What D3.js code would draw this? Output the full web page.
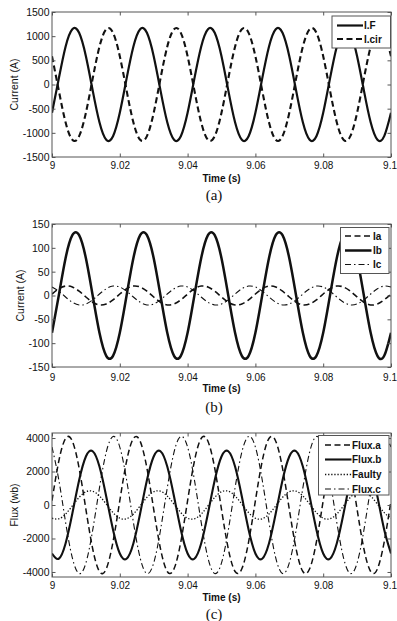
<!DOCTYPE html>
<html>
<head>
<meta charset="utf-8">
<script src="https://cdn.jsdelivr.net/npm/d3@7"></script>
<style>
  body { margin: 0; background: #fff; }
  svg { display: block; }
  text { font-family: Arial, "Liberation Sans", sans-serif; fill: #111; }
</style>
</head>
<body>
<svg id="chart" width="397" height="621"></svg>
<script>
// sample times (s), every 2 ms
var tSamples = [9.000, 9.002, 9.004, 9.006, 9.008, 9.010, 9.012, 9.014, 9.016, 9.018,
  9.020, 9.022, 9.024, 9.026, 9.028, 9.030, 9.032, 9.034, 9.036, 9.038,
  9.040, 9.042, 9.044, 9.046, 9.048, 9.050, 9.052, 9.054, 9.056, 9.058,
  9.060, 9.062, 9.064, 9.066, 9.068, 9.070, 9.072, 9.074, 9.076, 9.078,
  9.080, 9.082, 9.084, 9.086, 9.088, 9.090, 9.092, 9.094, 9.096, 9.098, 9.100];

// (a) currents (A)
var iF = [-585, 122, 783, 1144, 1069, 585, -122, -783, -1144, -1069,
  -585, 122, 783, 1144, 1069, 585, -122, -783, -1144, -1069,
  -585, 122, 783, 1144, 1069, 585, -122, -783, -1144, -1069,
  -585, 122, 783, 1144, 1069, 585, -122, -783, -1144, -1069,
  -585, 122, 783, 1144, 1069, 585, -122, -783, -1144, -1069, -585];
var iCir = [585, -122, -783, -1144, -1069, -585, 122, 783, 1144, 1069,
  585, -122, -783, -1144, -1069, -585, 122, 783, 1144, 1069,
  585, -122, -783, -1144, -1069, -585, 122, 783, 1144, 1069,
  585, -122, -783, -1144, -1069, -585, 122, 783, 1144, 1069,
  585, -122, -783, -1144, -1069, -585, 122, 783, 1144, 1069, 585];

// (b) phase currents (A)
var iA = [3.1, 14.1, 19.8, 17.8, 9.1, -3.1, -14.1, -19.8, -17.8, -9.1,
  3.1, 14.1, 19.8, 17.8, 9.1, -3.1, -14.1, -19.8, -17.8, -9.1,
  3.1, 14.1, 19.8, 17.8, 9.1, -3.1, -14.1, -19.8, -17.8, -9.1,
  3.1, 14.1, 19.8, 17.8, 9.1, -3.1, -14.1, -19.8, -17.8, -9.1,
  3.1, 14.1, 19.8, 17.8, 9.1, -3.1, -14.1, -19.8, -17.8, -9.1, 3.1];
var iB = [-78.2, 0, 78.2, 126.5, 126.5, 78.2, 0, -78.2, -126.5, -126.5,
  -78.2, 0, 78.2, 126.5, 126.5, 78.2, 0, -78.2, -126.5, -126.5,
  -78.2, 0, 78.2, 126.5, 126.5, 78.2, 0, -78.2, -126.5, -126.5,
  -78.2, 0, 78.2, 126.5, 126.5, 78.2, 0, -78.2, -126.5, -126.5,
  -78.2, 0, 78.2, 126.5, 126.5, 78.2, 0, -78.2, -126.5, -126.5, -78.2];
var iC = [17.8, 9.1, -3.1, -14.1, -19.8, -17.8, -9.1, 3.1, 14.1, 19.8,
  17.8, 9.1, -3.1, -14.1, -19.8, -17.8, -9.1, 3.1, 14.1, 19.8,
  17.8, 9.1, -3.1, -14.1, -19.8, -17.8, -9.1, 3.1, 14.1, 19.8,
  17.8, 9.1, -3.1, -14.1, -19.8, -17.8, -9.1, 3.1, 14.1, 19.8,
  17.8, 9.1, -3.1, -14.1, -19.8, -17.8, -9.1, 3.1, 14.1, 19.8, 17.8];

// (c) flux (wb)
var fluxA = [257, 2613, 3971, 3812, 2197, -257, -2613, -3971, -3812, -2197,
  257, 2613, 3971, 3812, 2197, -257, -2613, -3971, -3812, -2197,
  257, 2613, 3971, 3812, 2197, -257, -2613, -3971, -3812, -2197,
  257, 2613, 3971, 3812, 2197, -257, -2613, -3971, -3812, -2197,
  257, 2613, 3971, 3812, 2197, -257, -2613, -3971, -3812, -2197, 257];
var fluxB = [-2896, -3210, -2298, -508, 1475, 2896, 3210, 2298, 508, -1475,
  -2896, -3210, -2298, -508, 1475, 2896, 3210, 2298, 508, -1475,
  -2896, -3210, -2298, -508, 1475, 2896, 3210, 2298, 508, -1475,
  -2896, -3210, -2298, -508, 1475, 2896, 3210, 2298, 508, -1475,
  -2896, -3210, -2298, -508, 1475, 2896, 3210, 2298, 508, -1475, -2896];
var faulty = [-790, -823, -542, -53, 455, 790, 823, 542, 53, -455,
  -790, -823, -542, -53, 455, 790, 823, 542, 53, -455,
  -790, -823, -542, -53, 455, 790, 823, 542, 53, -455,
  -790, -823, -542, -53, 455, 790, 823, 542, 53, -455,
  -790, -823, -542, -53, 455, 790, 823, 542, 53, -455, -790];
var fluxC = [3462, 1509, -1020, -3159, -4092, -3462, -1509, 1020, 3159, 4092,
  3462, 1509, -1020, -3159, -4092, -3462, -1509, 1020, 3159, 4092,
  3462, 1509, -1020, -3159, -4092, -3462, -1509, 1020, 3159, 4092,
  3462, 1509, -1020, -3159, -4092, -3462, -1509, 1020, 3159, 4092,
  3462, 1509, -1020, -3159, -4092, -3462, -1509, 1020, 3159, 4092, 3462];

// ticks
var xTicks = [9, 9.02, 9.04, 9.06, 9.08, 9.1];
var xTickLabels = ["9", "9.02", "9.04", "9.06", "9.08", "9.1"];
var yTicksA = [-1500, -1000, -500, 0, 500, 1000, 1500];
var yTicksB = [-150, -100, -50, 0, 50, 100, 150];
var yTicksC = [-4000, -2000, 0, 2000, 4000];

var svg = d3.select("#chart");
var left = 52, right = 391;

var styles = {
  solid:   { dash: null,          w: 2.2 },
  dashed:  { dash: "6,3.5",       w: 1.9 },
  dotted:  { dash: "1.3,1.8",     w: 1.3 },
  dashdot: { dash: "6,3,1.5,3",   w: 1.1 }
};

function drawPanel(p, idx) {
  var x = d3.scaleLinear().domain([9, 9.1]).range([left, right]);
  var y = d3.scaleLinear().domain(p.yDomain).range([p.bottom, p.top]);
  var g = svg.append("g");

  g.append("clipPath").attr("id", "clip" + idx)
    .append("rect").attr("x", left).attr("y", p.top)
    .attr("width", right - left).attr("height", p.bottom - p.top);

  var line = d3.line()
    .x(function (d, i) { return x(tSamples[i]); })
    .y(function (d) { return y(d); })
    .curve(d3.curveNatural);

  var plot = g.append("g").attr("clip-path", "url(#clip" + idx + ")");
  p.series.forEach(function (s) {
    var st = styles[s.style];
    plot.append("path").datum(s.values)
      .attr("d", line)
      .attr("fill", "none")
      .attr("stroke", "#111")
      .attr("stroke-width", s.w || st.w)
      .attr("stroke-dasharray", st.dash);
  });

  // axes with inward ticks on all sides
  var tk = 3.5;
  g.append("g").attr("transform", "translate(0," + p.bottom + ")")
    .call(d3.axisBottom(x).tickValues(xTicks).tickSizeInner(-tk).tickSizeOuter(0)
      .tickFormat(function (d, i) { return xTickLabels[i]; }))
    .call(function (a) {
      a.selectAll("text").attr("dy", null).attr("y", p.xLabelY - p.bottom)
        .attr("dominant-baseline", "central").style("font-size", "10px");
      // last label sits against the right edge of the figure
      a.selectAll("text").filter(function (d) { return d === 9.1; })
        .attr("text-anchor", "end").attr("x", 5.5);
    });
  g.append("g").attr("transform", "translate(0," + p.top + ")")
    .call(d3.axisTop(x).tickValues(xTicks).tickSizeInner(-tk).tickSizeOuter(0).tickFormat(""));
  g.append("g").attr("transform", "translate(" + left + ",0)")
    .call(d3.axisLeft(y).tickValues(p.yTicks).tickSizeInner(-tk).tickSizeOuter(0)
      .tickFormat(function (d) { return String(d); }))
    .call(function (a) {
      a.selectAll("text").attr("x", -2.5).style("font-size", "10.5px");
    });
  g.append("g").attr("transform", "translate(" + right + ",0)")
    .call(d3.axisRight(y).tickValues(p.yTicks).tickSizeInner(-tk).tickSizeOuter(0).tickFormat(""));

  g.selectAll(".domain").remove();
  g.selectAll(".tick line").attr("stroke", "#555");
  g.selectAll(".tick text").attr("fill", "#111");
  g.append("rect").attr("x", left).attr("y", p.top)
    .attr("width", right - left).attr("height", p.bottom - p.top)
    .attr("fill", "none").attr("stroke", "#555").attr("stroke-width", 1);

  // labels
  g.append("text").attr("x", (left + right) / 2).attr("y", p.timeY)
    .attr("text-anchor", "middle").attr("dominant-baseline", "central")
    .style("font-size", "10px").style("font-weight", "bold").text("Time (s)");
  g.append("text")
    .attr("transform", "translate(" + p.yLabelX + "," + (p.top + p.bottom) / 2 + ") rotate(-90)")
    .attr("text-anchor", "middle").attr("dominant-baseline", "central")
    .style("font-size", "10.5px").text(p.yLabel);
  g.append("text").attr("x", 214).attr("y", p.capY)
    .attr("text-anchor", "middle").attr("dominant-baseline", "central")
    .style("font-family", "'Liberation Serif', 'DejaVu Serif', serif")
    .style("font-size", "15px").text(p.caption);

  // legend
  var L = p.legend;
  g.append("rect").attr("x", L.x0).attr("y", L.y0)
    .attr("width", L.x1 - L.x0).attr("height", L.y1 - L.y0)
    .attr("fill", "#fff").attr("stroke", "#555").attr("stroke-width", 1);
  p.series.forEach(function (s, i) {
    var st = styles[s.style];
    var yy = L.rows[i];
    g.append("line").attr("x1", L.lx0).attr("x2", L.lx1).attr("y1", yy).attr("y2", yy)
      .attr("stroke", "#111").attr("stroke-width", s.w || st.w)
      .attr("stroke-dasharray", st.dash);
    g.append("text").attr("x", L.tx).attr("y", yy).attr("dominant-baseline", "central")
      .style("font-size", "10px").style("font-weight", "bold").text(s.name);
  });
}

drawPanel({
  top: 12, bottom: 157, yDomain: [-1500, 1500], yTicks: yTicksA,
  xLabelY: 165, timeY: 178, capY: 195, yLabelX: 13.5, yLabel: "Current (A)", caption: "(a)",
  series: [
    { name: "I.F", values: iF, style: "solid" },
    { name: "I.cir", values: iCir, style: "dashed", w: 2.1 }
  ],
  legend: { x0: 332, x1: 390.5, y0: 16, y1: 48, rows: [25.5, 39], lx0: 337, lx1: 363, tx: 364 }
}, 0);

drawPanel({
  top: 224, bottom: 367, yDomain: [-150, 150], yTicks: yTicksB,
  xLabelY: 377, timeY: 388, capY: 407, yLabelX: 19.5, yLabel: "Current (A)", caption: "(b)",
  series: [
    { name: "Ia", values: iA, style: "dashed", w: 1.6 },
    { name: "Ib", values: iB, style: "solid", w: 2.5 },
    { name: "Ic", values: iC, style: "dashdot" }
  ],
  legend: { x0: 340.5, x1: 389, y0: 227.5, y1: 273.5, rows: [236, 250.5, 264.5], lx0: 345, lx1: 371.5, tx: 373 }
}, 1);

drawPanel({
  top: 433, bottom: 577, yDomain: [-4300, 4300], yTicks: yTicksC,
  xLabelY: 585, timeY: 597.5, capY: 614, yLabelX: 13.5, yLabel: "Flux (wb)", caption: "(c)",
  series: [
    { name: "Flux.a", values: fluxA, style: "dashed", w: 1.5 },
    { name: "Flux.b", values: fluxB, style: "solid", w: 2.1 },
    { name: "Faulty", values: faulty, style: "dotted" },
    { name: "Flux.c", values: fluxC, style: "dashdot" }
  ],
  legend: { x0: 318.5, x1: 389, y0: 435.5, y1: 495, rows: [445, 459.5, 474.5, 489], lx0: 325, lx1: 351.5, tx: 352 }
}, 2);
</script>
</body>
</html>
